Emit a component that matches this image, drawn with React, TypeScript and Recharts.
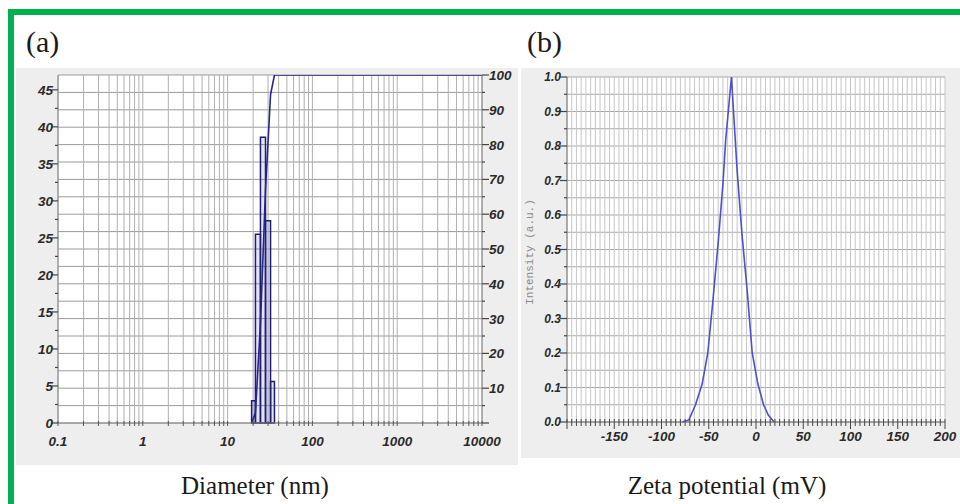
import React from 'react';
import { ComposedChart, LineChart, Line, XAxis, YAxis, CartesianGrid, ReferenceArea } from 'recharts';

// ---- Panel (a): size distribution ----
const binEdges = [19.2, 21.3, 24.4, 28.0, 32.1, 35.7];
const binValues = [3.0, 25.5, 38.6, 27.3, 5.6];
const cumDiameter = [19.2, 21.3, 24.4, 28.0, 32.1, 35.7, 10000];
const cumPercent = [0, 3.0, 28.5, 67.1, 94.4, 100, 100];
const diamDecades = [0.1, 1, 10, 100, 1000, 10000];
const diamLabels = ['0.1', '1', '10', '100', '1000', '10000'];
const leftLabels = ['0', '5', '10', '15', '20', '25', '30', '35', '40', '45'];
const rightLabels = ['', '10', '20', '30', '40', '50', '60', '70', '80', '90', '100'];

// ---- Panel (b): zeta potential ----
const zetaMv = [-78, -71, -64, -57, -51, -46, -40, -35, -32, -26, -20, -15, -9, -4, 2, 8, 13, 19];
const zetaIntensity = [0.0, 0.006, 0.05, 0.11, 0.2, 0.34, 0.52, 0.69, 0.82, 1.0, 0.73, 0.55, 0.37, 0.2, 0.11, 0.05, 0.02, 0.0];
const zetaLabels = ['-150', '-100', '-50', '0', '50', '100', '150', '200'];
const intensityLabels = ['0.0', '0.1', '0.2', '0.3', '0.4', '0.5', '0.6', '0.7', '0.8', '0.9', '1.0'];

const cumData = cumDiameter.map((d, i) => ({ d, cum: cumPercent[i] }));
const bins = binValues.map((v, i) => ({ x1: binEdges[i], x2: binEdges[i + 1], v }));
const diamTicks = diamDecades.flatMap((d) => (d >= 10000 ? [d] : [1, 2, 3, 4, 5, 6, 7, 8, 9].map((k) => k * d)));
const leftTicks = Array.from({ length: 19 }, (_, i) => i * 2.5);
const rightTicks = Array.from({ length: 21 }, (_, i) => i * 5);
const zetaData = zetaMv.map((x, i) => ({ x, y: zetaIntensity[i] }));
const zetaTicks = Array.from({ length: 81 }, (_, i) => -200 + i * 5);
const intensityTicks = Array.from({ length: 21 }, (_, i) => i * 0.05);

const tickFont = {
  fontFamily: '"Liberation Sans", Arial, sans-serif',
  fontStyle: 'italic' as const,
  fontWeight: 'bold' as const,
  fontSize: 13.5,
  fill: '#2a2a2a',
};

const DiamTick = (props: any) => {
  const { x, y, payload } = props;
  const idx = diamDecades.findIndex((d) => Math.abs(d - payload.value) < 1e-9 * d);
  return (
    <g>
      <line x1={x} x2={x} y1={y - 2} y2={y + 3} stroke="#555" strokeWidth={1} />
      {idx >= 0 && (
        <text x={x} y={y + 23} textAnchor="middle" {...tickFont}>
          {diamLabels[idx]}
        </text>
      )}
    </g>
  );
};

const LeftTick = (props: any) => {
  const { x, y, payload } = props;
  const i = Math.round(payload.value / 2.5);
  const major = i % 2 === 0;
  return (
    <g>
      <line x1={x - (major ? 6 : 3)} x2={x} y1={y} y2={y} stroke="#444" strokeWidth={1.2} />
      {major && (
        <text x={x - 5} y={y + 5} textAnchor="end" {...tickFont}>
          {leftLabels[i / 2]}
        </text>
      )}
    </g>
  );
};

const RightTick = (props: any) => {
  const { x, y, payload } = props;
  const i = Math.round(payload.value / 5);
  const major = i % 2 === 0;
  return (
    <g>
      <line x1={x} x2={x + (major ? 7 : 3)} y1={y} y2={y} stroke="#444" strokeWidth={1.2} />
      {major && rightLabels[i / 2] && (
        <text x={x + 7} y={y + 5} textAnchor="start" {...tickFont}>
          {rightLabels[i / 2]}
        </text>
      )}
    </g>
  );
};

const ZetaXTick = (props: any) => {
  const { x, y, payload } = props;
  const v = Math.round(payload.value);
  const major = v % 50 === 0;
  const li = (v + 150) / 50;
  return (
    <g>
      <line x1={x} x2={x} y1={y - 3} y2={y + (major ? 7 : 4)} stroke="#444" strokeWidth={1} />
      {major && li >= 0 && li < zetaLabels.length && (
        <text x={x} y={y + 19} textAnchor="middle" {...tickFont}>
          {zetaLabels[li]}
        </text>
      )}
    </g>
  );
};

const IntensityTick = (props: any) => {
  const { x, y, payload } = props;
  const i = Math.round(payload.value * 20);
  const major = i % 2 === 0;
  return (
    <g>
      <line x1={x - (major ? 7 : 3)} x2={x} y1={y} y2={y} stroke="#444" strokeWidth={1.2} />
      {major && (
        <text x={x - 6} y={y + 4} textAnchor="end" {...tickFont} fontSize={12}>
          {intensityLabels[i / 2]}
        </text>
      )}
    </g>
  );
};

const serif = '"Liberation Serif", "DejaVu Serif", serif';

export default function App() {
  return (
    <div style={{ position: 'absolute', left: 0, top: 0, width: 960, height: 504, background: '#fff', overflow: 'hidden' }}>
      {/* green frame */}
      <div style={{ position: 'absolute', left: 8, top: 9, width: 960, height: 500, borderTop: '6px solid #00b04f', borderLeft: '6px solid #00b04f', boxSizing: 'border-box' }} />

      {/* panel labels */}
      <div style={{ position: 'absolute', left: 26, top: 25, fontFamily: serif, fontSize: 30, color: '#1a1a1a' }}>(a)</div>
      <div style={{ position: 'absolute', left: 527, top: 25, fontFamily: serif, fontSize: 30, color: '#1a1a1a' }}>(b)</div>

      {/* Panel (a) */}
      <div style={{ position: 'absolute', left: 16, top: 68, width: 502, height: 397, background: '#eeeeee' }}>
        <ComposedChart width={502} height={397} data={cumData} margin={{ top: 7, right: 0, left: 0, bottom: 0 }}>
          <CartesianGrid yAxisId="right" vertical={false} stroke="#9a9a9a" fill="#ffffff" />
          <CartesianGrid yAxisId="right" horizontal={false} stroke="#b0b0b0" />
          <XAxis
            dataKey="d"
            type="number"
            scale="log"
            domain={[0.1, 10000]}
            allowDataOverflow
            ticks={diamTicks}
            interval={0}
            tick={<DiamTick />}
            tickLine={false}
            tickSize={0}
            tickMargin={0}
            height={42}
            axisLine={{ stroke: '#888' }}
          />
          <YAxis
            yAxisId="left"
            orientation="left"
            type="number"
            domain={[0, 47]}
            allowDataOverflow
            ticks={leftTicks}
            interval={0}
            tick={<LeftTick />}
            tickLine={false}
            tickSize={0}
            tickMargin={0}
            width={42}
            axisLine={{ stroke: '#888' }}
          />
          <YAxis
            yAxisId="right"
            orientation="right"
            type="number"
            domain={[0, 100]}
            allowDataOverflow
            ticks={rightTicks}
            interval={0}
            tick={<RightTick />}
            tickLine={false}
            tickSize={0}
            tickMargin={0}
            width={36}
            axisLine={{ stroke: '#888' }}
          />
          {bins.map((b, i) => (
            <ReferenceArea
              key={i}
              yAxisId="left"
              x1={b.x1}
              x2={b.x2}
              y1={0}
              y2={b.v}
              ifOverflow="visible"
              fill="#4a4ad0"
              fillOpacity={0.15}
              stroke="#1e1e6e"
              strokeWidth={1.5}
              strokeOpacity={1}
            />
          ))}
          <Line
            yAxisId="right"
            dataKey="cum"
            type="linear"
            stroke="#25258a"
            strokeWidth={1.6}
            dot={false}
            isAnimationActive={false}
          />
        </ComposedChart>
      </div>

      {/* Panel (b) */}
      <div style={{ position: 'absolute', left: 521, top: 68, width: 439, height: 390, background: '#eeeeee' }}>
        <LineChart width={439} height={390} data={zetaData} margin={{ top: 9, right: 15, left: 0, bottom: 0 }}>
          <CartesianGrid vertical={false} stroke="#a8a8a8" fill="#ffffff" />
          <CartesianGrid horizontal={false} stroke="#c6c6c6" />
          <XAxis
            dataKey="x"
            type="number"
            domain={[-200, 200]}
            ticks={zetaTicks}
            interval={0}
            tick={<ZetaXTick />}
            tickLine={false}
            tickSize={0}
            tickMargin={0}
            height={36}
            axisLine={{ stroke: '#777' }}
          />
          <YAxis
            type="number"
            domain={[0, 1]}
            ticks={intensityTicks}
            interval={0}
            tick={<IntensityTick />}
            tickLine={false}
            tickSize={0}
            tickMargin={0}
            width={46}
            axisLine={{ stroke: '#777' }}
          />
          <Line dataKey="y" type="linear" stroke="#4f4fcf" strokeWidth={1.6} dot={false} isAnimationActive={false} />
        </LineChart>
      </div>

      {/* y-axis title (b) */}
      <div
        style={{
          position: 'absolute',
          left: 530,
          top: 252,
          transform: 'translate(-50%, -50%) rotate(-90deg)',
          fontFamily: '"Liberation Mono", "DejaVu Sans Mono", monospace',
          fontSize: 11,
          color: '#8a8a8a',
          whiteSpace: 'nowrap',
        }}
      >
        Intensity (a.u.)
      </div>

      {/* axis titles */}
      <div style={{ position: 'absolute', left: 255, top: 472, transform: 'translateX(-50%)', fontFamily: serif, fontSize: 25, color: '#1a1a1a', whiteSpace: 'nowrap' }}>
        Diameter (nm)
      </div>
      <div style={{ position: 'absolute', left: 727, top: 472, transform: 'translateX(-50%)', fontFamily: serif, fontSize: 25, color: '#1a1a1a', whiteSpace: 'nowrap' }}>
        Zeta potential (mV)
      </div>
    </div>
  );
}
